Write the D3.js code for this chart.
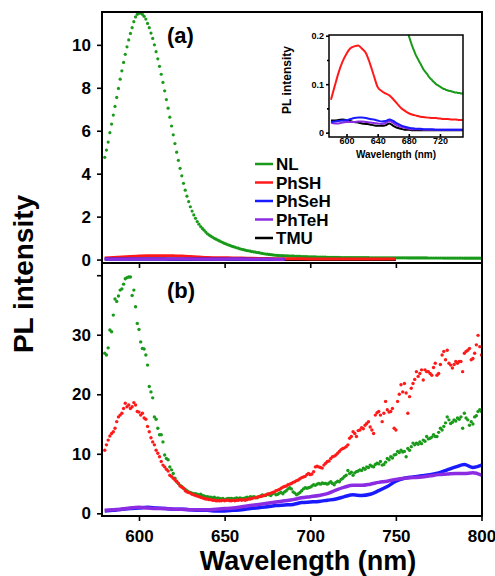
<!DOCTYPE html>
<html>
<head>
<meta charset="utf-8">
<title>PL intensity</title>
<script src="https://d3js.org/d3.v7.min.js"></script>
<style>
body { margin: 0; background: #fff; }
svg text { font-family: "Liberation Sans", Arial, sans-serif; font-weight: bold; fill: #000; }
</style>
</head>
<body>
<svg width="495" height="576"></svg>
<script>
// wavelength grids (nm)
var wl1 = d3.range(580, 801);       // 1 nm steps, dotted series
var wl5 = d3.range(580, 801, 5);    // 5 nm steps, line series (b)
var wlIn = d3.range(580, 751, 5);   // inset / small series in (a)

var names = ["NL", "PhSH", "PhSeH", "PhTeH", "TMU"];
var colors = ["#1a9a1a", "#ff1a1a", "#1a1aff", "#8b2be2", "#000000"];

// (a) NL, 580-800 nm
var nlA = [
  4.76, 5.10, 5.47, 5.91, 6.31, 6.73, 7.13, 7.55, 7.97, 8.40,
  8.79, 9.18, 9.56, 9.91, 10.23, 10.53, 10.80, 11.08, 11.30, 11.42,
  11.47, 11.48, 11.42, 11.33, 11.20, 11.00, 10.80, 10.55, 10.30, 10.00,
  9.68, 9.35, 9.00, 8.63, 8.25, 7.86, 7.45, 7.05, 6.63, 6.22,
  5.81, 5.40, 5.00, 4.62, 4.25, 3.90, 3.55, 3.23, 2.95, 2.70,
  2.46, 2.26, 2.08, 1.92, 1.77, 1.65, 1.54, 1.45, 1.37, 1.28,
  1.20, 1.14, 1.09, 1.04, 0.99, 0.95, 0.91, 0.87, 0.83, 0.79,
  0.75, 0.72, 0.69, 0.66, 0.63, 0.60, 0.58, 0.55, 0.53, 0.50,
  0.48, 0.46, 0.44, 0.42, 0.41, 0.39, 0.37, 0.36, 0.35, 0.33,
  0.32, 0.30, 0.29, 0.27, 0.26, 0.25, 0.24, 0.23, 0.22, 0.21,
  0.200, 0.195, 0.190, 0.185, 0.180, 0.176, 0.172, 0.168, 0.164, 0.160,
  0.157, 0.154, 0.151, 0.148, 0.145, 0.142, 0.139, 0.136, 0.133, 0.130,
  0.128, 0.126, 0.124, 0.122, 0.120, 0.117, 0.115, 0.113, 0.111, 0.110,
  0.108, 0.106, 0.105, 0.103, 0.102, 0.100, 0.099, 0.098, 0.097, 0.096,
  0.095, 0.094, 0.093, 0.092, 0.091, 0.090, 0.090, 0.089, 0.088, 0.088,
  0.087, 0.087, 0.086, 0.086, 0.086, 0.085, 0.085, 0.084, 0.084, 0.083,
  0.083, 0.083, 0.083, 0.082, 0.082, 0.082, 0.082, 0.081, 0.081, 0.081,
  0.081, 0.080, 0.080, 0.080, 0.079, 0.079, 0.079, 0.078, 0.078, 0.078,
  0.077, 0.077, 0.077, 0.076, 0.076, 0.076, 0.075, 0.075, 0.075, 0.074,
  0.074, 0.074, 0.073, 0.073, 0.073, 0.072, 0.072, 0.072, 0.071, 0.071,
  0.071, 0.070, 0.070, 0.070, 0.069, 0.069, 0.069, 0.068, 0.068, 0.068,
  0.067, 0.067, 0.067, 0.066, 0.066, 0.066, 0.065, 0.065, 0.065, 0.064,
  0.064
];

// (b) NL, 580-800 nm
var nlB = [
  26.9, 26.6, 27.8, 30.8, 30.5, 33.3, 36.0, 35.6, 36.5, 37.5,
  37.7, 38.5, 39.4, 39.6, 39.7, 39.7, 36.6, 37.5, 34.7, 31.9,
  30.9, 28.8, 27.7, 27.6, 26.6, 24.9, 21.3, 20.4, 19.4, 16.2,
  15.8, 14.3, 13.2, 13.2, 12.0, 9.8, 9.2, 9.0, 7.8, 7.3,
  6.7, 5.9, 5.3, 5.0, 4.7, 4.5, 4.2, 4.0, 3.8, 3.6,
  3.5, 3.4, 3.3, 3.3, 3.2, 3.1, 3.2, 3.0, 2.9, 2.8,
  2.8, 2.7, 2.7, 2.6, 2.7, 2.5, 2.6, 2.5, 2.4, 2.5,
  2.3, 2.4, 2.5, 2.5, 2.5, 2.4, 2.5, 2.6, 2.5, 2.6,
  2.5, 2.5, 2.6, 2.7, 2.6, 2.8, 2.7, 2.8, 2.7, 2.6,
  2.8, 2.9, 3.1, 3.0, 3.0, 3.2, 3.1, 3.0, 3.3, 3.4,
  3.1, 3.2, 3.4, 3.5, 3.3, 3.6, 3.8, 4.1, 4.3, 4.1,
  3.6, 3.4, 3.1, 3.3, 3.5, 3.8, 4.1, 4.3, 4.2, 4.3,
  4.4, 4.6, 4.8, 4.7, 4.9, 5.0, 4.9, 5.1, 5.0, 5.0,
  4.9, 5.1, 5.3, 5.0, 4.8, 5.2, 5.4, 5.3, 5.7, 5.9,
  6.2, 6.4, 7.2, 6.7, 6.9, 6.4, 6.8, 7.0, 7.1, 7.3,
  7.2, 7.6, 7.4, 7.8, 7.7, 8.1, 7.9, 7.8, 8.2, 8.4,
  8.3, 8.7, 8.1, 8.2, 8.6, 9.2, 9.0, 9.5, 9.3, 9.8,
  9.9, 10.4, 10.2, 10.6, 10.3, 10.4, 9.5, 10.9, 10.6, 11.2,
  11.8, 11.5, 11.8, 11.6, 12.0, 11.7, 12.3, 12.1, 12.9, 12.5,
  12.6, 12.8, 13.2, 12.9, 12.9, 13.6, 14.3, 14.0, 14.6, 15.2,
  16.2, 15.7, 15.1, 15.3, 15.7, 15.5, 16.0, 15.8, 16.2, 14.3,
  16.8, 16.0, 15.7, 14.8, 15.4, 15.0, 16.2, 16.4, 17.1, 17.4,
  17.1
];

// (b) PhSH, 580-800 nm
var shB = [
  10.6, 11.5, 12.3, 13.0, 13.4, 13.7, 14.3, 15.4, 16.2, 16.5,
  16.8, 17.6, 18.5, 17.9, 18.2, 17.6, 17.9, 18.6, 18.2, 17.1,
  17.0, 16.5, 16.8, 16.0, 15.8, 14.6, 13.7, 12.7, 12.0, 11.5,
  10.6, 10.1, 9.5, 8.7, 8.1, 7.8, 7.4, 7.1, 6.4, 6.2,
  5.9, 5.6, 5.4, 5.0, 4.6, 4.4, 4.2, 3.8, 3.6, 3.5,
  3.4, 3.2, 3.1, 3.0, 2.9, 2.8, 2.7, 2.6, 2.5, 2.4,
  2.4, 2.3, 2.3, 2.2, 2.2, 2.1, 2.1, 2.1, 2.1, 2.2,
  2.1, 2.2, 2.2, 2.1, 2.1, 2.2, 2.1, 2.2, 2.2, 2.3,
  2.2, 2.3, 2.2, 2.3, 2.4, 2.4, 2.5, 2.6, 2.6, 2.7,
  2.8, 2.8, 2.9, 3.0, 3.1, 3.2, 3.3, 3.4, 3.5, 3.6,
  3.8, 3.9, 4.0, 4.2, 4.4, 4.5, 4.6, 4.8, 4.9, 5.0,
  5.2, 5.3, 5.5, 5.6, 5.8, 6.0, 6.1, 6.2, 6.5, 6.7,
  6.5, 6.6, 7.0, 7.8, 7.9, 7.8, 7.7, 7.6, 8.1, 8.4,
  8.7, 8.8, 9.2, 9.5, 9.6, 9.8, 10.1, 10.4, 10.7, 10.9,
  11.0, 11.2, 11.5, 12.6, 12.9, 13.7, 13.4, 12.9, 13.9, 14.0,
  14.4, 14.2, 14.8, 15.1, 15.4, 14.5, 14.0, 13.4, 16.5, 16.9,
  17.1, 16.5, 15.4, 16.8, 18.8, 17.4, 17.0, 17.1, 17.6, 14.3,
  14.0, 18.8, 20.0, 21.6, 20.4, 21.8, 20.2, 16.8, 19.6, 21.0,
  21.8, 22.5, 23.8, 23.0, 23.5, 24.1, 22.4, 24.1, 23.8, 23.8,
  23.5, 23.2, 24.5, 25.2, 23.2, 23.5, 25.0, 26.6, 27.2, 25.8,
  27.4, 25.2, 24.9, 24.4, 25.0, 25.5, 25.2, 25.5, 25.5, 23.8,
  26.9, 27.2, 27.4, 27.7, 25.8, 26.0, 26.9, 28.3, 29.9, 28.0,
  26.6
];

// (b) PhSeH and PhTeH, 580-800 nm every 5 nm
var seB = [
  0.4, 0.5, 0.7, 0.8, 0.9, 1.0, 0.9, 0.8, 0.7, 0.7,
  0.6, 0.5, 0.5, 0.4, 0.4, 0.5, 0.6, 0.8, 0.95, 1.1,
  1.3, 1.4, 1.5, 1.8, 1.9, 2.0, 2.2, 2.4, 2.8, 3.1,
  3.0, 3.2, 3.8, 4.5, 5.4, 5.9, 6.1, 6.3, 6.5, 6.8,
  7.3, 7.8, 8.2, 7.7, 8.1
];
var teB = [
  0.5, 0.6, 0.7, 0.9, 1.0, 0.9, 0.8, 0.8, 0.7, 0.7,
  0.6, 0.6, 0.6, 0.7, 0.8, 0.9, 1.1, 1.3, 1.5, 1.7,
  1.9, 2.1, 2.3, 2.6, 2.8, 3.0, 3.3, 3.9, 4.4, 4.7,
  4.7, 4.9, 5.2, 5.4, 5.7, 5.9, 6.0, 6.1, 6.3, 6.5,
  6.6, 6.7, 6.7, 6.8, 6.4
];

// inset (same data as (a)), 580-750 nm every 5 nm
var shIn = [
  0.068, 0.097, 0.125, 0.147, 0.163, 0.174, 0.178, 0.180, 0.173, 0.164,
  0.143, 0.118, 0.094, 0.086, 0.081, 0.077, 0.069, 0.060, 0.051, 0.045,
  0.040, 0.037, 0.035, 0.033, 0.032, 0.031, 0.030, 0.030, 0.029, 0.028,
  0.028, 0.027, 0.027, 0.026, 0.026
];
var seIn = [
  0.022, 0.023, 0.024, 0.025, 0.026, 0.028, 0.030, 0.031, 0.031, 0.030,
  0.028, 0.027, 0.025, 0.023, 0.024, 0.027, 0.024, 0.019, 0.015, 0.012,
  0.010, 0.009, 0.008, 0.008, 0.007, 0.007, 0.007, 0.006, 0.006, 0.006,
  0.006, 0.006, 0.006, 0.006, 0.006
];
var teIn = [
  0.021, 0.019, 0.019, 0.021, 0.022, 0.022, 0.022, 0.023, 0.023, 0.022,
  0.021, 0.020, 0.019, 0.018, 0.020, 0.024, 0.020, 0.015, 0.012, 0.010,
  0.008, 0.007, 0.007, 0.007, 0.006, 0.006, 0.006, 0.006, 0.006, 0.006,
  0.006, 0.006, 0.006, 0.006, 0.006
];
var tmuIn = [
  0.025, 0.025, 0.026, 0.027, 0.026, 0.024, 0.022, 0.021, 0.019, 0.018,
  0.017, 0.015, 0.014, 0.014, 0.015, 0.019, 0.014, 0.010, 0.008, 0.006,
  0.006, 0.005, 0.005, 0.005, 0.005, 0.005, 0.005, 0.005, 0.005, 0.005,
  0.005, 0.005, 0.005, 0.005, 0.005
];

var ticksA = [0, 2, 4, 6, 8, 10];
var ticksB = [0, 10, 20, 30, 40];
var ticksX = [600, 650, 700, 750, 800];
var ticksInX = [600, 640, 680, 720];
var ticksInY = [0, 0.1, 0.2];
var ticksInYminor = [0.05, 0.15];

function pairs(xs, ys) {
  return ys.map(function(v, i) { return [xs[i], v]; });
}

var svg = d3.select("svg");

var x = d3.scaleLinear().domain([578.4, 800.3]).range([102, 482]);
var yA = d3.scaleLinear().domain([-0.16, 11.53]).range([263, 12]);
var yB = d3.scaleLinear().domain([-0.45, 42.05]).range([516, 263]);

var defs = svg.append("defs");
defs.append("clipPath").attr("id", "clipA")
  .append("rect").attr("x", 102).attr("y", 12).attr("width", 380).attr("height", 251);
defs.append("clipPath").attr("id", "clipB")
  .append("rect").attr("x", 102).attr("y", 263).attr("width", 380).attr("height", 253);
defs.append("clipPath").attr("id", "clipIn")
  .append("rect").attr("x", 329).attr("y", 35).attr("width", 134).attr("height", 102);

// ---- panel (a)
var gA = svg.append("g").attr("clip-path", "url(#clipA)");
gA.selectAll("circle")
  .data(pairs(wl1, nlA))
  .enter().append("circle")
    .attr("cx", function(d) { return x(d[0]); })
    .attr("cy", function(d) { return yA(d[1]); })
    .attr("r", 1.6)
    .attr("fill", colors[0]);

var lineA = d3.line()
  .x(function(d) { return x(d[0]); })
  .y(function(d) { return yA(d[1]); })
  .curve(d3.curveMonotoneX);
// in (a) the PhSeH / PhTeH traces only show up to ~685 nm
[[tmuIn, 4, 750], [shIn, 1, 750], [seIn, 2, 685], [teIn, 3, 685]].forEach(function(s) {
  gA.append("path")
    .datum(pairs(wlIn, s[0]).filter(function(d) { return d[0] <= s[2]; }))
    .attr("fill", "none")
    .attr("stroke", colors[s[1]])
    .attr("stroke-width", 3)
    .attr("d", lineA);
});

// ---- panel (b)
var gB = svg.append("g").attr("clip-path", "url(#clipB)");
var lineB = d3.line()
  .x(function(d) { return x(d[0]); })
  .y(function(d) { return yB(d[1]); })
  .curve(d3.curveMonotoneX);
[[seB, 2], [teB, 3]].forEach(function(s) {
  gB.append("path")
    .datum(pairs(wl5, s[0]))
    .attr("fill", "none")
    .attr("stroke", colors[s[1]])
    .attr("stroke-width", 3.5)
    .attr("d", lineB);
});
[[nlB, 0], [shB, 1]].forEach(function(s) {
  gB.append("g").selectAll("circle")
    .data(pairs(wl1, s[0]))
    .enter().append("circle")
      .attr("cx", function(d) { return x(d[0]); })
      .attr("cy", function(d) { return yB(d[1]); })
      .attr("r", 1.7)
      .attr("fill", colors[s[1]]);
});

// frames
svg.append("rect").attr("x", 102).attr("y", 12).attr("width", 380).attr("height", 251)
  .attr("fill", "none").attr("stroke", "#000").attr("stroke-width", 2);
svg.append("rect").attr("x", 102).attr("y", 263).attr("width", 380).attr("height", 253)
  .attr("fill", "none").attr("stroke", "#000").attr("stroke-width", 2);

function styleAxis(g, size) {
  g.select(".domain").remove();
  g.selectAll("line").attr("stroke-width", 1.6);
  g.selectAll("text").attr("font-size", size);
}

svg.append("g").attr("transform", "translate(102,0)")
  .call(d3.axisLeft(yA).tickValues(ticksA).tickSize(5).tickPadding(6))
  .call(styleAxis, 17);
svg.append("g").attr("transform", "translate(102,0)")
  .call(d3.axisLeft(yB).tickValues(ticksB).tickSize(5).tickPadding(6)
    .tickFormat(function(d) { return d == 40 ? "" : d; }))
  .call(styleAxis, 17);
svg.append("g").attr("transform", "translate(0,263)")
  .call(d3.axisBottom(x).tickValues(ticksX).tickSize(5).tickFormat(""))
  .call(styleAxis, 17);
svg.append("g").attr("transform", "translate(0,516)")
  .call(d3.axisBottom(x).tickValues(ticksX).tickSize(5).tickPadding(9))
  .call(styleAxis, 17);

svg.append("text").attr("x", 167).attr("y", 43).attr("font-size", 22).text("(a)");
svg.append("text").attr("x", 167).attr("y", 298).attr("font-size", 22).text("(b)");

svg.append("text")
  .attr("transform", "translate(33,274) rotate(-90)")
  .attr("text-anchor", "middle")
  .attr("font-size", 28)
  .text("PL intensity");
svg.append("text")
  .attr("x", 308).attr("y", 570)
  .attr("text-anchor", "middle")
  .attr("font-size", 27)
  .text("Wavelength (nm)");

// legend
var leg = svg.append("g");
names.forEach(function(n, i) {
  var yy = 164 + i * 18.5;
  leg.append("line").attr("x1", 255).attr("x2", 273).attr("y1", yy).attr("y2", yy)
    .attr("stroke", colors[i]).attr("stroke-width", 2.5);
  leg.append("text").attr("x", 276).attr("y", yy).attr("dy", "0.36em")
    .attr("font-size", 17).text(n);
});

// ---- inset
var xi = d3.scaleLinear().domain([577.5, 749.6]).range([329, 463]);
var yi = d3.scaleLinear().domain([-0.009, 0.2015]).range([137, 35]);
svg.append("rect").attr("x", 329).attr("y", 35).attr("width", 134).attr("height", 102)
  .attr("fill", "#fff");
var gIn = svg.append("g").attr("clip-path", "url(#clipIn)");
var lineIn = d3.line()
  .x(function(d) { return xi(d[0]); })
  .y(function(d) { return yi(d[1]); })
  .curve(d3.curveMonotoneX);
gIn.append("path")
  .datum(pairs(wl1, nlA).filter(function(d) { return d[0] <= 750 && d[1] < 0.3; }))
  .attr("fill", "none").attr("stroke", colors[0]).attr("stroke-width", 2)
  .attr("d", lineIn);
[[shIn, 1], [tmuIn, 4], [teIn, 3], [seIn, 2]].forEach(function(s) {
  gIn.append("path")
    .datum(pairs(wlIn, s[0]))
    .attr("fill", "none")
    .attr("stroke", colors[s[1]])
    .attr("stroke-width", 2)
    .attr("d", lineIn);
});
svg.append("rect").attr("x", 329).attr("y", 35).attr("width", 134).attr("height", 102)
  .attr("fill", "none").attr("stroke", "#000").attr("stroke-width", 1.5);
svg.append("g").attr("transform", "translate(329,0)")
  .call(d3.axisLeft(yi).tickValues(ticksInY).tickSize(3).tickPadding(2)
    .tickFormat(function(d) { return d == 0 ? "0" : d; }))
  .call(styleAxis, 9);
svg.append("g").attr("transform", "translate(329,0)")
  .call(d3.axisLeft(yi).tickValues(ticksInYminor).tickSize(2).tickFormat(""))
  .call(styleAxis, 9);
// inset x ticks point inward, labels sit right under the frame
svg.append("g").attr("transform", "translate(0,137)")
  .call(d3.axisBottom(xi).tickValues(ticksInX).tickSize(-3).tickPadding(1))
  .call(styleAxis, 9);
svg.append("text").attr("x", 396).attr("y", 158).attr("text-anchor", "middle")
  .attr("font-size", 10).text("Wavelength (nm)");
svg.append("text")
  .attr("transform", "translate(291,80) rotate(-90)")
  .attr("text-anchor", "middle")
  .attr("font-size", 12)
  .text("PL intensity");
</script>
</body>
</html>
